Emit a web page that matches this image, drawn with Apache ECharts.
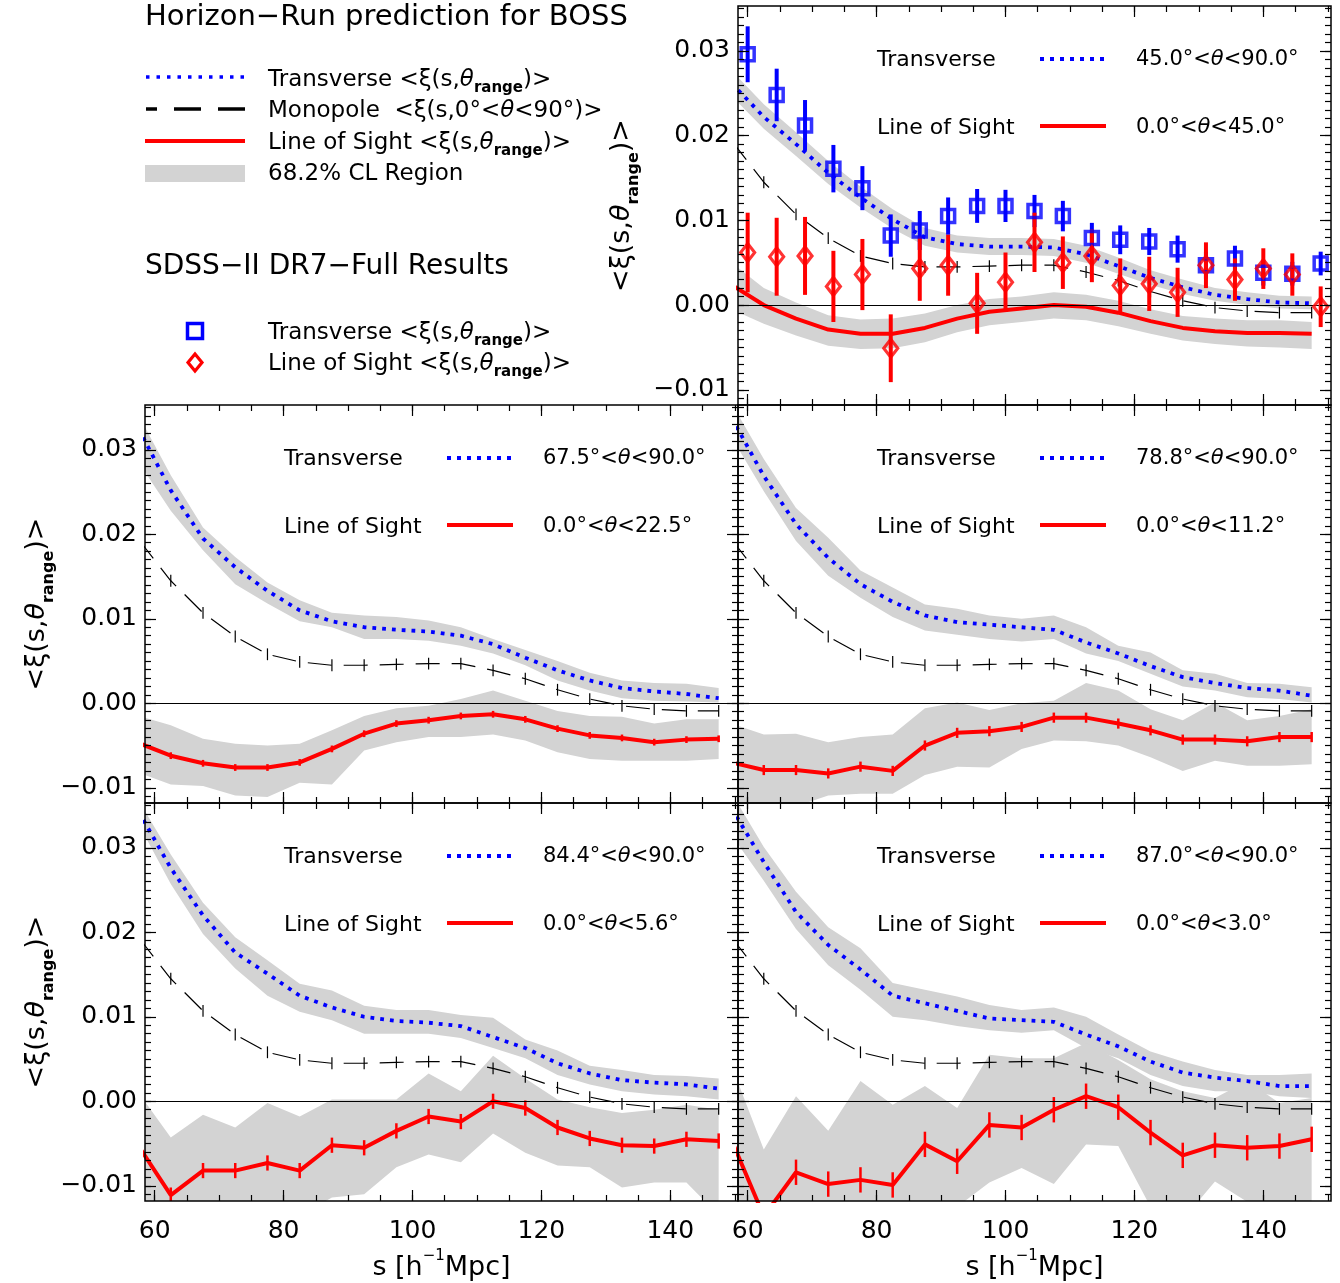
<!DOCTYPE html>
<html><head><meta charset="utf-8">
<script src="https://cdn.jsdelivr.net/npm/echarts@6/dist/echarts.min.js"></script>
<style>html,body{margin:0;padding:0;background:#fff}#c{width:1340px;height:1283px}</style>
</head><body><div id="c"></div>
<script>
// ---------------- DATA ----------------
const sModel = [57.5, 62.5, 67.5, 72.5, 77.5, 82.5, 87.5, 92.5, 97.5, 102.5, 107.5, 112.5, 117.5, 122.5, 127.5, 132.5, 137.5, 142.5, 147.5];
const monopole = [0.0194, 0.0145, 0.0107, 0.0079, 0.0058, 0.0049, 0.0045, 0.0045, 0.0046, 0.0047, 0.0047, 0.0039, 0.0029, 0.0016, 0.0005, -0.0003, -0.0007, -0.0009, -0.0009];
const monopoleErr = 0.0007;

// top-right panel (45.0-90.0 / 0.0-45.0)
const transT   = [0.0262, 0.0222, 0.0190, 0.0156, 0.0127, 0.0101, 0.0080, 0.0072, 0.0069, 0.0069, 0.0068, 0.0060, 0.0046, 0.0032, 0.0021, 0.0012, 0.0007, 0.0003, 0.0002];
const transTHi = [0.0277, 0.0237, 0.0204, 0.0170, 0.0140, 0.0113, 0.0091, 0.0082, 0.0079, 0.0079, 0.0078, 0.0070, 0.0056, 0.0041, 0.0030, 0.0020, 0.0015, 0.0011, 0.0010];
const transTLo = [0.0247, 0.0208, 0.0176, 0.0143, 0.0115, 0.0090, 0.0070, 0.0062, 0.0059, 0.0059, 0.0058, 0.0050, 0.0037, 0.0024, 0.0013, 0.0005, 0.0000, -0.0004, -0.0005];
const losT     = [0.0024, 0.0000, -0.0016, -0.0029, -0.0034, -0.0034, -0.0027, -0.0016, -0.0008, -0.0004, 0.0000, -0.0002, -0.0009, -0.0019, -0.0027, -0.0031, -0.0033, -0.0033, -0.0034];
const losTHi   = [0.0050, 0.0020, 0.0003, -0.0012, -0.0017, -0.0016, -0.0010, 0.0000, 0.0007, 0.0010, 0.0015, 0.0012, 0.0005, -0.0005, -0.0013, -0.0016, -0.0018, -0.0018, -0.0020];
const losTLo   = [-0.0005, -0.0022, -0.0036, -0.0048, -0.0052, -0.0051, -0.0044, -0.0032, -0.0024, -0.0020, -0.0016, -0.0018, -0.0025, -0.0034, -0.0042, -0.0046, -0.0049, -0.0050, -0.0052];

// middle-left (67.5-90.0 / 0.0-22.5)
const transML   = [0.0325, 0.0252, 0.0195, 0.0161, 0.0133, 0.0110, 0.0097, 0.0090, 0.0087, 0.0085, 0.0080, 0.0070, 0.0054, 0.0039, 0.0027, 0.0018, 0.0014, 0.0011, 0.0006];
const transMLHi = [0.0341, 0.0270, 0.0208, 0.0173, 0.0143, 0.0122, 0.0107, 0.0104, 0.0102, 0.0098, 0.0090, 0.0076, 0.0063, 0.0050, 0.0036, 0.0027, 0.0024, 0.0023, 0.0018];
const transMLLo = [0.0285, 0.0228, 0.0181, 0.0141, 0.0118, 0.0097, 0.0090, 0.0076, 0.0076, 0.0074, 0.0068, 0.0059, 0.0045, 0.0027, 0.0015, 0.0006, 0.0003, 0.0002, 0.0001];
const losML     = [-0.0047, -0.0062, -0.0071, -0.0076, -0.0076, -0.0070, -0.0054, -0.0036, -0.0024, -0.0020, -0.0015, -0.0013, -0.0019, -0.0030, -0.0038, -0.0041, -0.0046, -0.0043, -0.0042];
const losMLHi   = [-0.0015, -0.0026, -0.0042, -0.0048, -0.0050, -0.0048, -0.0032, -0.0015, -0.0006, -0.0003, 0.0005, 0.0015, 0.0003, -0.0009, -0.0015, -0.0016, -0.0024, -0.0019, -0.0019];
const losMLLo   = [-0.0082, -0.0096, -0.0098, -0.0109, -0.0111, -0.0094, -0.0096, -0.0056, -0.0046, -0.0040, -0.0040, -0.0037, -0.0044, -0.0058, -0.0066, -0.0068, -0.0068, -0.0068, -0.0066];

// middle-right (78.8-90.0 / 0.0-11.2)
const transMR   = [0.0338, 0.0269, 0.0212, 0.0172, 0.0141, 0.0120, 0.0104, 0.0096, 0.0093, 0.0090, 0.0087, 0.0072, 0.0059, 0.0044, 0.0031, 0.0024, 0.0018, 0.0015, 0.0009];
const transMRHi = [0.0355, 0.0289, 0.0231, 0.0196, 0.0157, 0.0137, 0.0117, 0.0112, 0.0104, 0.0100, 0.0104, 0.0090, 0.0068, 0.0060, 0.0039, 0.0035, 0.0024, 0.0023, 0.0019];
const transMRLo = [0.0315, 0.0251, 0.0192, 0.0151, 0.0125, 0.0102, 0.0086, 0.0081, 0.0076, 0.0073, 0.0076, 0.0059, 0.0050, 0.0035, 0.0020, 0.0015, 0.0007, 0.0005, 0.0001];
const losMR     = [-0.0070, -0.0079, -0.0079, -0.0083, -0.0075, -0.0080, -0.0050, -0.0035, -0.0033, -0.0028, -0.0017, -0.0017, -0.0024, -0.0032, -0.0043, -0.0043, -0.0045, -0.0040, -0.0040];
const losMRHi   = [-0.0024, -0.0037, -0.0036, -0.0046, -0.0040, -0.0037, -0.0006, 0.0001, -0.0008, 0.0000, 0.0003, 0.0024, 0.0015, -0.0007, -0.0020, 0.0001, -0.0020, -0.0015, -0.0007];
const losMRLo   = [-0.0118, -0.0125, -0.0122, -0.0109, -0.0107, -0.0107, -0.0085, -0.0075, -0.0076, -0.0054, -0.0044, -0.0045, -0.0050, -0.0064, -0.0080, -0.0068, -0.0074, -0.0074, -0.0072];

// bottom-left (84.4-90.0 / 0.0-5.6)
const transBL   = [0.0343, 0.0276, 0.0220, 0.0176, 0.0151, 0.0125, 0.0111, 0.0100, 0.0095, 0.0093, 0.0089, 0.0076, 0.0063, 0.0045, 0.0033, 0.0025, 0.0022, 0.0020, 0.0015];
const transBLHi = [0.0356, 0.0292, 0.0235, 0.0194, 0.0167, 0.0139, 0.0131, 0.0113, 0.0108, 0.0108, 0.0102, 0.0099, 0.0073, 0.0060, 0.0042, 0.0037, 0.0031, 0.0030, 0.0027];
const transBLLo = [0.0328, 0.0257, 0.0198, 0.0157, 0.0125, 0.0106, 0.0096, 0.0080, 0.0080, 0.0080, 0.0075, 0.0063, 0.0051, 0.0031, 0.0020, 0.0012, 0.0008, 0.0006, 0.0002];
const losBL     = [-0.0053, -0.0111, -0.0082, -0.0082, -0.0073, -0.0082, -0.0052, -0.0055, -0.0035, -0.0018, -0.0024, 0.0000, -0.0008, -0.0031, -0.0044, -0.0052, -0.0053, -0.0045, -0.0047];
const losBLHi   = [0.0010, -0.0043, -0.0016, -0.0031, -0.0002, -0.0018, 0.0002, 0.0002, 0.0002, 0.0033, 0.0012, 0.0054, 0.0027, 0.0002, -0.0007, -0.0014, -0.0010, -0.0004, -0.0010];
const losBLLo   = [-0.0135, -0.0135, -0.0135, -0.0135, -0.0135, -0.0135, -0.0114, -0.0110, -0.0078, -0.0063, -0.0072, -0.0038, -0.0061, -0.0076, -0.0078, -0.0102, -0.0096, -0.0096, -0.0135];

// bottom-right (87.0-90.0 / 0.0-3.0)
const transBR   = [0.0347, 0.0283, 0.0224, 0.0185, 0.0156, 0.0125, 0.0116, 0.0107, 0.0098, 0.0096, 0.0094, 0.0079, 0.0065, 0.0047, 0.0034, 0.0028, 0.0024, 0.0018, 0.0018];
const transBRHi = [0.0365, 0.0301, 0.0248, 0.0206, 0.0181, 0.0140, 0.0132, 0.0124, 0.0114, 0.0108, 0.0111, 0.0100, 0.0079, 0.0059, 0.0047, 0.0037, 0.0031, 0.0031, 0.0033];
const transBRLo = [0.0315, 0.0261, 0.0204, 0.0161, 0.0132, 0.0100, 0.0096, 0.0089, 0.0084, 0.0081, 0.0084, 0.0063, 0.0051, 0.0031, 0.0018, 0.0012, 0.0012, 0.0006, 0.0004];
const losBR     = [-0.0046, -0.0136, -0.0084, -0.0098, -0.0093, -0.0099, -0.0051, -0.0071, -0.0028, -0.0031, -0.0010, 0.0006, -0.0007, -0.0037, -0.0064, -0.0052, -0.0055, -0.0053, -0.0045];
const losBRHi   = [0.0042, -0.0057, 0.0006, -0.0035, 0.0024, -0.0004, 0.0018, -0.0008, 0.0055, 0.0051, 0.0051, 0.0069, 0.0049, 0.0026, 0.0012, 0.0004, 0.0024, -0.0002, 0.0004];
const losBRLo   = [-0.0140, -0.0140, -0.0140, -0.0140, -0.0140, -0.0140, -0.0140, -0.0125, -0.0096, -0.0079, -0.0098, -0.0051, -0.0053, -0.0125, -0.0140, -0.0095, -0.0119, -0.0140, -0.0140];

// per-panel error half-length of the line-of-sight prediction
const losErr = [0, 0.0004, 0.0006, 0.0009, 0.0015];

// SDSS-II DR7 data (top-right panel)
const sData = [60.0, 64.5, 68.9, 73.3, 77.8, 82.2, 86.7, 91.1, 95.6, 100.0, 104.5, 108.9, 113.4, 117.8, 122.3, 126.7, 131.1, 135.6, 140.0, 144.5, 148.9];
const dataTrans    = [0.0296, 0.0248, 0.0212, 0.0161, 0.0138, 0.0082, 0.0088, 0.0105, 0.0117, 0.0117, 0.0111, 0.0105, 0.0079, 0.0077, 0.0075, 0.0066, 0.0047, 0.0055, 0.0038, 0.0037, 0.0049];
const dataTransErr = [0.0033, 0.0031, 0.0030, 0.0028, 0.0026, 0.0025, 0.0023, 0.0022, 0.0020, 0.0019, 0.0019, 0.0018, 0.0018, 0.0017, 0.0016, 0.0016, 0.0016, 0.0015, 0.0015, 0.0014, 0.0014];
const dataLos      = [0.0062, 0.0057, 0.0058, 0.0022, 0.0036, -0.0051, 0.0043, 0.0047, 0.0002, 0.0027, 0.0074, 0.0050, 0.0058, 0.0023, 0.0025, 0.0015, 0.0047, 0.0030, 0.0043, 0.0036, -0.0002];
const dataLosErr   = [0.0047, 0.0046, 0.0046, 0.0042, 0.0042, 0.0040, 0.0038, 0.0036, 0.0036, 0.0035, 0.0035, 0.0031, 0.0031, 0.0032, 0.0032, 0.0029, 0.0027, 0.0025, 0.0024, 0.0025, 0.0024];

// tick labels
const xTicks = [60, 80, 100, 120, 140];
const xMinorTicks = [60, 65, 70, 75, 80, 85, 90, 95, 100, 105, 110, 115, 120, 125, 130, 135, 140, 145, 150];
const yTicks = [-0.01, 0.00, 0.01, 0.02, 0.03];

const transRanges = ['45.0°<θ<90.0°', '67.5°<θ<90.0°', '78.8°<θ<90.0°', '84.4°<θ<90.0°', '87.0°<θ<90.0°'];
const losRanges   = ['0.0°<θ<45.0°', '0.0°<θ<22.5°', '0.0°<θ<11.2°', '0.0°<θ<5.6°', '0.0°<θ<3.0°'];

// ---------------- LAYOUT / STYLE ----------------
const FONT = '"DejaVu Sans", sans-serif';
const GRAY = '#d3d3d3', BLUE = '#0000ff', RED = '#ff0000';
const X_MIN = 58.5, X_MAX = 150.5, Y_MIN = -0.0118, Y_MAX = 0.0353;
const boxes = [[738, 6, 593, 399], [145, 405, 593, 398], [738, 405, 593, 398], [145, 803, 593, 398], [738, 803, 593, 398]];
const models = [
  [transT, transTHi, transTLo, losT, losTHi, losTLo],
  [transML, transMLHi, transMLLo, losML, losMLHi, losMLLo],
  [transMR, transMRHi, transMRLo, losMR, losMRHi, losMRLo],
  [transBL, transBLHi, transBLLo, losBL, losBLHi, losBLLo],
  [transBR, transBRHi, transBRLo, losBR, losBRHi, losBRLo]
];
const yMinorTicks = [];
for (let k = -11; k <= 35; k++) yMinorTicks.push(Number((k * 0.001).toFixed(3)));

const tickLine = {color: '#000', width: 1.2};
const yFmt = v => (v < 0 ? '\u2212' : '') + Math.abs(v).toFixed(2);

const grids = [], xAxes = [], yAxes = [], series = [], graphics = [];

function errSeries(xi, yi, pts, color, width, z) {
  return {
    type: 'custom', xAxisIndex: xi, yAxisIndex: yi, data: pts, z: z, silent: true,
    encode: {x: 0, y: [1, 2]},
    renderItem: function (params, api) {
      const cs = params.coordSys;
      const a = api.coord([api.value(0), api.value(1)]);
      const b = api.coord([api.value(0), api.value(2)]);
      if (a[0] < cs.x || a[0] > cs.x + cs.width) return null;
      let y1 = Math.min(a[1], b[1]), y2 = Math.max(a[1], b[1]);
      y1 = Math.max(y1, cs.y); y2 = Math.min(y2, cs.y + cs.height);
      if (y2 <= y1) return null;
      return {type: 'line', shape: {x1: a[0], y1: y1, x2: a[0], y2: y2}, style: {stroke: color, lineWidth: width}};
    }
  };
}

// confidence band drawn as one polygon through the axes' scales
function bandSeries(xi, yi, lo, hi) {
  const last = sModel.length - 1;
  return {
    type: 'custom', xAxisIndex: xi, yAxisIndex: yi, z: 1, silent: true, clip: true,
    data: sModel.map((s, k) => [s, lo[k], hi[k]]),
    encode: {x: 0, y: [1, 2]},
    renderItem: function (params, api) {
      if (params.dataIndex !== last) return null;
      const up = sModel.map((s, k) => api.coord([s, hi[k]]));
      const dn = sModel.map((s, k) => api.coord([s, lo[k]])).reverse();
      return {type: 'polygon', shape: {points: up.concat(dn)}, style: {fill: GRAY, stroke: null, lineWidth: 0}};
    }
  };
}

const axisNameRich = {
  t: {fontFamily: FONT, fontSize: 27, color: '#000', fontStyle: 'italic', lineHeight: 40},
  sub: {fontFamily: FONT, fontSize: 16, fontWeight: 'bold', color: '#000', verticalAlign: 'bottom', lineHeight: 16}
};

boxes.forEach((b, i) => {
  grids.push({left: b[0], top: b[1], width: b[2], height: b[3], show: false, containLabel: false, outerBoundsMode: 'none'});
  const showX = i >= 3;
  const showY = (i === 0 || i === 1 || i === 3);
  const xi = xAxes.length, yi = yAxes.length;
  const xb = {gridIndex: i, type: 'value', min: X_MIN, max: X_MAX, z: 10, splitLine: {show: false},
    axisLine: {show: false, onZero: false}, axisLabel: {show: false}};
  xAxes.push(Object.assign({}, xb, {
    position: 'bottom',
    axisTick: {show: true, inside: true, length: 11, customValues: xTicks, lineStyle: tickLine},
    axisLabel: {show: showX, customValues: xTicks, fontFamily: FONT, fontSize: 25, color: '#000', margin: 18},
    name: showX ? 's [h{sup|\u22121}Mpc]' : '', nameLocation: 'middle', nameGap: 48,
    nameTextStyle: {fontFamily: FONT, fontSize: 27, color: '#000', lineHeight: 38,
      rich: {sup: {fontFamily: FONT, fontSize: 15, color: '#000', verticalAlign: 'top', lineHeight: 15}}}
  }));
  xAxes.push(Object.assign({}, xb, {position: 'bottom', axisTick: {show: true, inside: true, length: 6, customValues: xMinorTicks, lineStyle: tickLine}}));
  xAxes.push(Object.assign({}, xb, {position: 'top', axisTick: {show: true, inside: true, length: 11, customValues: xTicks, lineStyle: tickLine}}));
  xAxes.push(Object.assign({}, xb, {position: 'top', axisTick: {show: true, inside: true, length: 6, customValues: xMinorTicks, lineStyle: tickLine}}));

  const yb = {gridIndex: i, type: 'value', min: Y_MIN, max: Y_MAX, z: 10, splitLine: {show: false},
    axisLine: {show: false, onZero: false}, axisLabel: {show: false}};
  yAxes.push(Object.assign({}, yb, {
    position: 'left',
    axisTick: {show: true, inside: true, length: 11, customValues: yTicks, lineStyle: tickLine},
    axisLabel: {show: showY, customValues: yTicks, formatter: yFmt, fontFamily: FONT, fontSize: 25, color: '#000', margin: 8},
    name: showY ? '<ξ(s,{t|θ}{sub|range})>' : '', nameLocation: 'middle', nameRotate: 90,
    nameGap: i === 0 ? 96 : 84,
    nameTextStyle: {fontFamily: FONT, fontSize: 27, color: '#000', lineHeight: 40, rich: axisNameRich}
  }));
  yAxes.push(Object.assign({}, yb, {position: 'left', axisTick: {show: true, inside: true, length: 6, customValues: yMinorTicks, lineStyle: tickLine}}));
  yAxes.push(Object.assign({}, yb, {position: 'right', axisTick: {show: true, inside: true, length: 11, customValues: yTicks, lineStyle: tickLine}}));
  yAxes.push(Object.assign({}, yb, {position: 'right', axisTick: {show: true, inside: true, length: 6, customValues: yMinorTicks, lineStyle: tickLine}}));

  const m = models[i];
  // bands
  series.push(bandSeries(xi, yi, m[2], m[1]));
  series.push(bandSeries(xi, yi, m[5], m[4]));
  // monopole + zero line
  series.push({
    type: 'line', xAxisIndex: xi, yAxisIndex: yi, z: 3, symbol: 'none', silent: true,
    data: sModel.map((s, k) => [s, monopole[k]]),
    lineStyle: {color: '#000', width: 1.2, type: [24, 12]},
    markLine: {silent: true, symbol: ['none', 'none'], label: {show: false}, animation: false,
      lineStyle: {color: '#000', width: 1.2, type: 'solid'},
      data: [[{coord: [X_MIN, 0]}, {coord: [X_MAX, 0]}]]}
  });
  series.push(errSeries(xi, yi, sModel.map((s, k) => [s, monopole[k] - monopoleErr, monopole[k] + monopoleErr]), '#000', 1.2, 3));
  // transverse prediction
  series.push({
    type: 'line', xAxisIndex: xi, yAxisIndex: yi, z: 4, symbol: 'none', silent: true,
    data: sModel.map((s, k) => [s, m[0][k]]),
    lineStyle: {color: BLUE, width: 3.8, type: [3.8, 6], cap: 'butt'}
  });
  // line-of-sight prediction
  series.push({
    type: 'line', xAxisIndex: xi, yAxisIndex: yi, z: 4, symbol: 'none', silent: true,
    data: sModel.map((s, k) => [s, m[3][k]]),
    lineStyle: {color: RED, width: 4}
  });
  if (losErr[i] > 0) {
    series.push(errSeries(xi, yi, sModel.map((s, k) => [s, m[3][k] - losErr[i], m[3][k] + losErr[i]]), RED, 2.5, 4));
  }
  if (i === 0) {
    series.push(errSeries(xi, yi, sData.map((s, k) => [s, dataTrans[k] - dataTransErr[k], dataTrans[k] + dataTransErr[k]]), BLUE, 4, 5));
    series.push(errSeries(xi, yi, sData.map((s, k) => [s, dataLos[k] - dataLosErr[k], dataLos[k] + dataLosErr[k]]), RED, 4, 5));
    series.push({type: 'scatter', xAxisIndex: xi, yAxisIndex: yi, z: 6, silent: true, symbol: 'rect', symbolSize: 13,
      data: sData.map((s, k) => [s, dataTrans[k]]),
      itemStyle: {color: 'rgba(255,255,255,0)', borderColor: BLUE, borderWidth: 3.5}});
    series.push({type: 'scatter', xAxisIndex: xi, yAxisIndex: yi, z: 6, silent: true, symbol: 'diamond', symbolSize: [14, 18],
      data: sData.map((s, k) => [s, dataLos[k]]),
      itemStyle: {color: 'rgba(255,255,255,0)', borderColor: RED, borderWidth: 3.2}});
  }

  // frame
  graphics.push({type: 'rect', z: 100, silent: true, shape: {x: b[0], y: b[1], width: b[2], height: b[3]},
    style: {fill: 'none', stroke: '#000', lineWidth: 1.5}});

  // in-panel annotations
  const richP = {
    a: {fontFamily: FONT, fontSize: 22, fill: '#000', color: '#000'},
    b: {fontFamily: FONT, fontSize: 21, fill: '#000', color: '#000'},
    t: {fontFamily: FONT, fontSize: 21, fill: '#000', color: '#000', fontStyle: 'italic'}
  };
  const richAngle = str => '{b|' + str.split('θ').join('}{t|θ}{b|') + '}';
  const txt = (x, y, text, rich) => ({type: 'text', z: 101, silent: true, x: x, y: y,
    style: {text: text, rich: rich, fill: '#000', align: 'left', verticalAlign: 'middle', textAlign: 'left', textVerticalAlign: 'middle'}});
  graphics.push(txt(b[0] + 139, b[1] + 54, '{a|Transverse}', richP));
  graphics.push({type: 'line', z: 101, silent: true, shape: {x1: b[0] + 302, y1: b[1] + 53, x2: b[0] + 368, y2: b[1] + 53},
    style: {stroke: BLUE, lineWidth: 4, lineDash: [4, 6]}});
  graphics.push(txt(b[0] + 398, b[1] + 54, richAngle(transRanges[i]), richP));
  graphics.push(txt(b[0] + 139, b[1] + 122, '{a|Line of Sight}', richP));
  graphics.push({type: 'line', z: 101, silent: true, shape: {x1: b[0] + 302, y1: b[1] + 120, x2: b[0] + 368, y2: b[1] + 120},
    style: {stroke: RED, lineWidth: 4}});
  graphics.push(txt(b[0] + 398, b[1] + 122, richAngle(losRanges[i]), richP));
});

// ---------------- top-left legend ----------------
const richL = {
  n: {fontFamily: FONT, fontSize: 23, fill: '#000', color: '#000', lineHeight: 32},
  t: {fontFamily: FONT, fontSize: 23, fill: '#000', color: '#000', fontStyle: 'italic', lineHeight: 32},
  s: {fontFamily: FONT, fontSize: 15, fill: '#000', color: '#000', fontWeight: 'bold', verticalAlign: 'bottom', lineHeight: 15}
};
const ltxt = (x, y, text, rich) => ({type: 'text', z: 101, silent: true, x: x, y: y,
  style: {text: text, rich: rich, fill: '#000', align: 'left', verticalAlign: 'middle', textAlign: 'left', textVerticalAlign: 'middle'}});
graphics.push(ltxt(145, 17, '{h|Horizon\u2212Run prediction for BOSS}', {h: {fontFamily: FONT, fontSize: 29, fill: '#000', color: '#000'}}));
graphics.push({type: 'line', z: 101, shape: {x1: 146, y1: 77, x2: 245, y2: 77}, style: {stroke: BLUE, lineWidth: 3.5, lineDash: [3.5, 7]}});
graphics.push(ltxt(268, 80, '{n|Transverse <ξ(s,}{t|θ}{s|range}{n|)>}', richL));
graphics.push({type: 'line', z: 101, shape: {x1: 146, y1: 109, x2: 245, y2: 109}, style: {stroke: '#000', lineWidth: 3.5, lineDash: [27, 17], lineDashOffset: 16}});
graphics.push(ltxt(268, 111, '{n|Monopole  <ξ(s,0°<}{t|θ}{n|<90°)>}', richL));
graphics.push({type: 'line', z: 101, shape: {x1: 145, y1: 141, x2: 245, y2: 141}, style: {stroke: RED, lineWidth: 4}});
graphics.push(ltxt(268, 143, '{n|Line of Sight <ξ(s,}{t|θ}{s|range}{n|)>}', richL));
graphics.push({type: 'rect', z: 101, shape: {x: 145, y: 165, width: 100, height: 17}, style: {fill: GRAY}});
graphics.push(ltxt(268, 174, '{n|68.2% CL Region}', richL));
graphics.push(ltxt(145, 267, '{h|SDSS\u2212II DR7\u2212Full Results}', {h: {fontFamily: FONT, fontSize: 28, fill: '#000', color: '#000'}}));
graphics.push({type: 'rect', z: 101, shape: {x: 187.5, y: 323.5, width: 15, height: 15}, style: {fill: 'none', stroke: BLUE, lineWidth: 3.5}});
graphics.push(ltxt(268, 333, '{n|Transverse <ξ(s,}{t|θ}{s|range}{n|)>}', richL));
graphics.push({type: 'polygon', z: 101, shape: {points: [[195, 354], [202, 362.5], [195, 371], [188, 362.5]]}, style: {fill: 'none', stroke: RED, lineWidth: 3.2}});
graphics.push(ltxt(268, 364, '{n|Line of Sight <ξ(s,}{t|θ}{s|range}{n|)>}', richL));

const chart = echarts.init(document.getElementById('c'), null, {renderer: 'canvas', width: 1340, height: 1283});
chart.setOption({
  animation: false,
  backgroundColor: '#ffffff',
  textStyle: {fontFamily: FONT},
  grid: grids,
  xAxis: xAxes,
  yAxis: yAxes,
  series: series,
  graphic: {elements: graphics}
});
</script>
</body></html>
